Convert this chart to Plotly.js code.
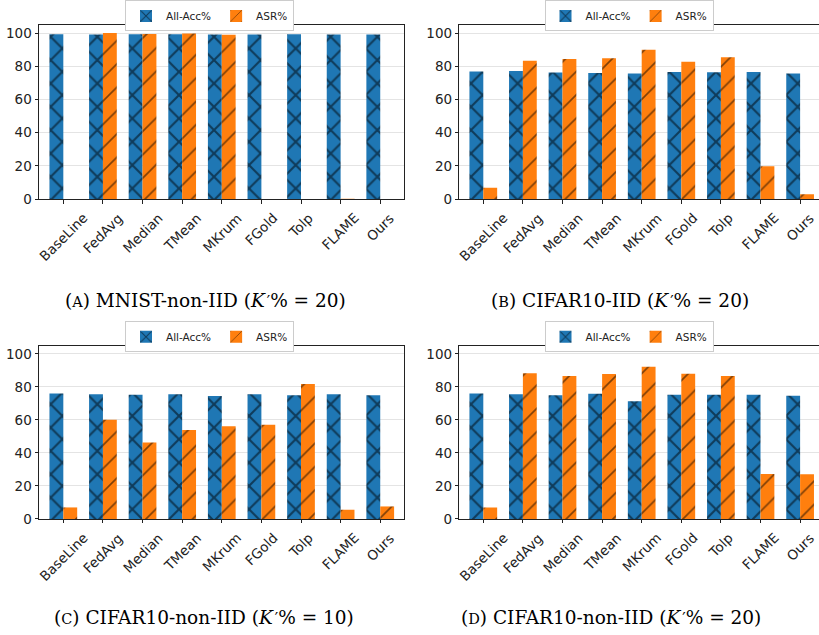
<!DOCTYPE html>
<html>
<head>
<meta charset="utf-8">
<script src="https://cdn.plot.ly/plotly-3.0.1.min.js"></script>
<style>html,body{margin:0;padding:0;background:#fff;}#chart{width:819px;height:635px;}</style>
</head>
<body>
<div id="chart"></div>
<script>
// ---- data ----
var categories = ['BaseLine', 'FedAvg', 'Median', 'TMean', 'MKrum', 'FGold', 'Tolp', 'FLAME', 'Ours'];
var seriesNames = ['All-Acc%', 'ASR%'];
var yTicks = [0, 20, 40, 60, 80, 100];

var accA = [99.3, 99.2, 99.3, 99.3, 99.2, 99.2, 99.3, 99.2, 99.2];
var asrA = [0, 100.0, 99.4, 99.7, 99.0, 0, 0, 0.3, 0];

var accB = [76.8, 77.2, 76.2, 76.0, 75.6, 76.6, 76.4, 76.6, 75.6];
var asrB = [6.9, 83.4, 84.4, 84.8, 90.0, 82.8, 85.4, 19.8, 3.0];

var accC = [76.0, 75.6, 75.2, 75.6, 74.5, 75.6, 75.0, 75.6, 75.0];
var asrC = [7.0, 60.1, 46.3, 53.9, 56.1, 57.1, 81.8, 5.6, 7.6];

var accD = [76.0, 75.6, 75.0, 75.8, 71.3, 75.2, 75.2, 75.2, 74.7];
var asrD = [7.0, 88.2, 86.6, 87.8, 92.2, 88.0, 86.6, 27.3, 27.1];

var PRIME = '<i>K</i><span style="font-size:10px">\u2009</span><span style="font-family:DejaVu Sans;font-size:15px">\u2032</span>';
var captions = [
  '(<span style="font-size:14.5px">A</span>) MNIST-non-IID (' + PRIME + '% = 20)',
  '(<span style="font-size:14.5px">B</span>) CIFAR10-IID (' + PRIME + '% = 20)',
  '(<span style="font-size:14.5px">C</span>) CIFAR10-non-IID (' + PRIME + '% = 10)',
  '(<span style="font-size:14.5px">D</span>) CIFAR10-non-IID (' + PRIME + '% = 20)'
];

// ---- layout helpers ----
var W = 819, H = 635;
var BLUE = '#1f77b4', ORANGE = '#ff7f0e';
var panels = [
  {acc: accA, asr: asrA, x0: 39, x1: 404, xr: [-0.614, 8.6], top: 18.3, bot: 194.3, rightSpine: true, legX: 209.5, legY: 9, capX: 205, capY: 297},
  {acc: accB, asr: asrB, x0: 459.3, x1: 819, xr: [-0.606, 8.477], top: 18.3, bot: 194.3, rightSpine: false, legX: 629, legY: 9, capX: 620, capY: 297},
  {acc: accC, asr: asrC, x0: 39, x1: 404, xr: [-0.614, 8.6], top: 342.7, bot: 517.7, rightSpine: true, legX: 209.5, legY: 333.5, capX: 204, capY: 617},
  {acc: accD, asr: asrD, x0: 459.3, x1: 819, xr: [-0.606, 8.477], top: 342.7, bot: 517.7, rightSpine: false, legX: 629, legY: 333.5, capX: 611, capY: 617}
];

var traces = [];
var layout = {
  width: W, height: H,
  margin: {l: 0, r: 0, t: 0, b: 0},
  paper_bgcolor: '#fff', plot_bgcolor: '#fff',
  barmode: 'group', bargap: 0.3, bargroupgap: 0,
  font: {family: 'DejaVu Sans', size: 13.5, color: '#222'},
  annotations: [],
  showlegend: true
};

panels.forEach(function (p, i) {
  var n = i + 1;
  var xa = 'x' + (n === 1 ? '' : n), ya = 'y' + (n === 1 ? '' : n);
  var xk = 'xaxis' + (n === 1 ? '' : n), yk = 'yaxis' + (n === 1 ? '' : n);
  var lg = 'legend' + (n === 1 ? '' : n);

  traces.push({
    type: 'bar', x: categories, y: p.acc, name: seriesNames[0],
    xaxis: xa, yaxis: ya, legend: lg,
    marker: {color: BLUE, line: {width: 0},
      pattern: {shape: 'x', fgcolor: '#000', bgcolor: BLUE, size: 16.5, solidity: 0.24, fillmode: 'overlay'}},
    hoverinfo: 'skip'
  });
  traces.push({
    type: 'bar', x: categories, y: p.asr, name: seriesNames[1],
    xaxis: xa, yaxis: ya, legend: lg,
    marker: {color: ORANGE, line: {width: 0},
      pattern: {shape: '/', fgcolor: '#000', bgcolor: ORANGE, size: 16.5, solidity: 0.1, fillmode: 'overlay'}},
    hoverinfo: 'skip'
  });

  layout[xk] = {
    domain: [p.x0 / W, p.x1 / W], anchor: ya,
    type: 'category', categoryarray: categories, range: p.xr,
    showgrid: false, zeroline: false,
    showline: true, linecolor: '#222', linewidth: 1, mirror: true,
    ticks: 'outside', ticklen: 3.5, tickwidth: 1, tickcolor: '#222',
    showticklabels: false, fixedrange: true
  };
  layout[yk] = {
    domain: [1 - p.bot / H, 1 - p.top / H], anchor: xa,
    range: [0, 104.8], tickvals: yTicks,
    showgrid: true, gridcolor: '#e4e4e4', gridwidth: 1, zeroline: false,
    showline: true, linecolor: '#222', linewidth: 1, mirror: p.rightSpine,
    ticks: 'outside', ticklen: 3.5, tickwidth: 1, tickcolor: '#222',
    tickfont: {family: 'DejaVu Sans', size: 13.5, color: '#222'},
    fixedrange: true
  };
  layout[lg] = {
    orientation: 'h', x: p.legX / W, xanchor: 'center', y: 1 - p.legY / H, yanchor: 'middle',
    bgcolor: '#fff', bordercolor: '#cccccc', borderwidth: 1,
    font: {family: 'DejaVu Sans', size: 10.5, color: '#222'},
    traceorder: 'normal', itemclick: false, itemdoubleclick: false
  };

  // rotated category labels, centred under each tick
  categories.forEach(function (c) {
    layout.annotations.push({
      x: c, xref: xa, y: -8 / (p.bot - p.top), yref: ya + ' domain',
      text: c, textangle: -45, showarrow: false,
      xanchor: 'center', yanchor: 'top',
      font: {family: 'DejaVu Sans', size: 13.5, color: '#222'}
    });
  });

  layout.annotations.push({
    x: p.capX / W, xref: 'paper', y: 1 - p.capY / H, yref: 'paper',
    text: captions[i], showarrow: false, xanchor: 'center', yanchor: 'middle',
    font: {family: 'DejaVu Serif', size: 18.5, color: '#000'}
  });
});

Plotly.newPlot('chart', traces, layout, {staticPlot: true, displayModeBar: false});
</script>
</body>
</html>
